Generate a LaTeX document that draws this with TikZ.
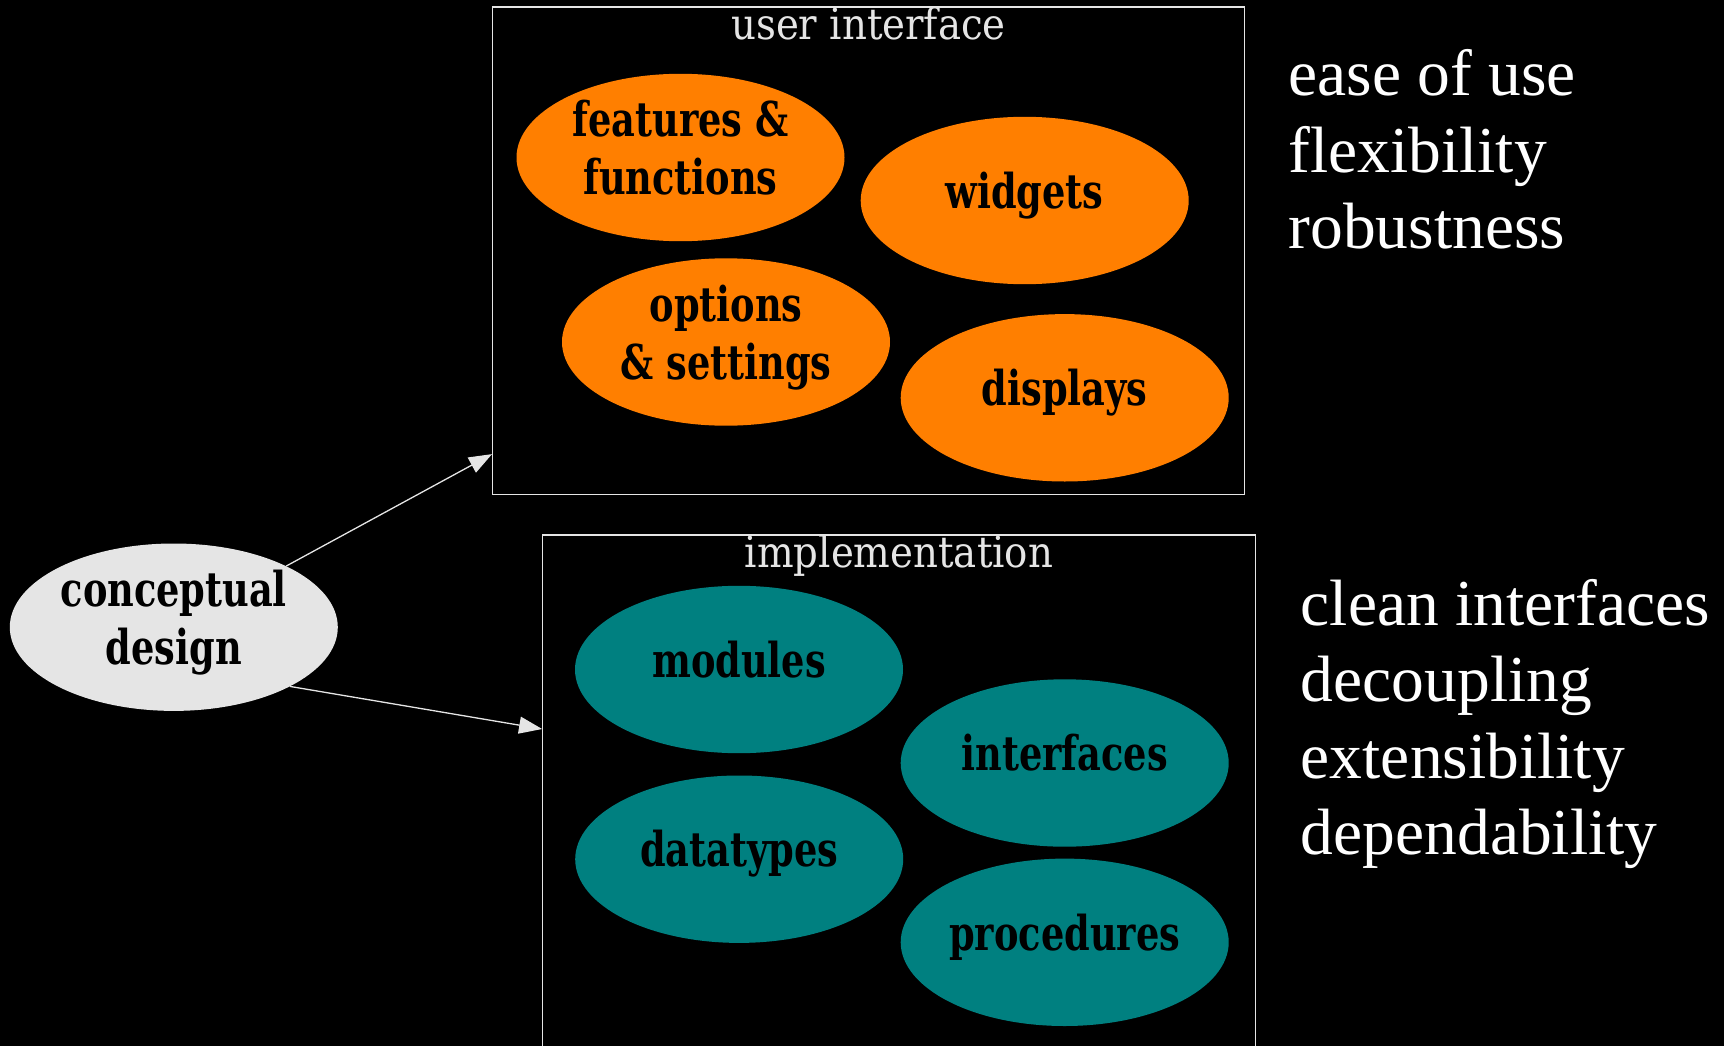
\documentclass[tikz,border=0pt]{standalone}
\usepackage{fontspec}
\setmainfont{Liberation Serif}
\newfontfamily\ellfont[FakeStretch=0.85]{DejaVu Serif Condensed Bold}
\newfontfamily\clusterfont{DejaVu Serif Condensed}
\usetikzlibrary{shapes.geometric,arrows.meta}
\definecolor{uiorange}{HTML}{FF7F00}
\definecolor{implteal}{HTML}{008080}
\definecolor{conceptgray}{HTML}{E5E5E5}
\definecolor{linegray}{HTML}{E5E5E5}
\begin{document}
\begin{tikzpicture}[x=1pt,y=-1pt,
  blob/.style={ellipse, draw=none, inner sep=0pt,
    minimum width=328pt, minimum height=167.4pt, text=black,
    font=\ellfont\fontsize{48}{58}\selectfont},
  oneline/.style={text height=24pt, text depth=8.6pt},
  twoline/.style={text height=0pt, text depth=42pt},
  uiblob/.style={blob, fill=uiorange},
  implblob/.style={blob, fill=implteal},
  cluster/.style={rectangle, draw=linegray, line width=1.2pt, inner sep=0pt},
  clustertitle/.style={text=linegray, inner sep=0pt,
    font=\clusterfont\fontsize{43}{50}\selectfont},
  quality/.style={text=white, inner sep=0pt,
    font=\fontsize{65.5}{76.5}\selectfont},
  arr/.style={draw=linegray, line width=1.3pt,
    -{Triangle[length=23pt,width=17pt]}}
]
% background and page size
\fill[black] (0,0) rectangle (1724,1046);
\useasboundingbox (0,0) rectangle (1724,1046);

% clusters
\node[cluster, minimum width=752pt, minimum height=487.6pt] (ui) at (868.6,250.8) {};
\node[clustertitle, anchor=base] (uititle) at ([yshift=-33.5pt]ui.north) {user interface};
\node[cluster, minimum width=712.6pt, minimum height=513pt] (impl) at (899,791.5) {};
\node[clustertitle, anchor=base] (impltitle) at ([yshift=-33.5pt]impl.north) {implementation};

% start node
\node[blob, twoline, fill=conceptgray] (concept) at (173.8,627.2)
  {\begin{tabular}[t]{@{}c@{}}conceptual\\design\end{tabular}};

% user interface parts
\node[uiblob, twoline] (feat) at (680.5,157.5)
  {\begin{tabular}[t]{@{}c@{}}features \&\\functions\end{tabular}};
\node[uiblob, oneline] (widgets) at (1024.7,200.5) {widgets};
\node[uiblob, twoline] (options) at (726,342)
  {\begin{tabular}[t]{@{}c@{}}options\\\& settings\end{tabular}};
\node[uiblob, oneline] (displays) at (1064.7,397.8) {displays};

% implementation parts
\node[implblob, oneline] (modules) at (739,669.5) {modules};
\node[implblob, oneline] (interfaces) at (1064.7,763) {interfaces};
\node[implblob, oneline] (datatypes) at (739.2,859.2) {datatypes};
\node[implblob, oneline] (procedures) at (1064.7,942.3) {procedures};

% connectors
\draw[arr] (concept) -- (ui);
\draw[arr] (concept.-27) -- (impl.west |- 0,729);

% qualities
\node[quality, anchor=base west] (uiq) at (1288.3,96)
  {\begin{tabular}[t]{@{}l@{}}ease of use\\flexibility\\robustness\end{tabular}};
\node[quality, anchor=base west] (implq) at (1300.7,625)
  {\begin{tabular}[t]{@{}l@{}}clean interfaces\\decoupling\\extensibility\\dependability\end{tabular}};
\end{tikzpicture}
\end{document}
